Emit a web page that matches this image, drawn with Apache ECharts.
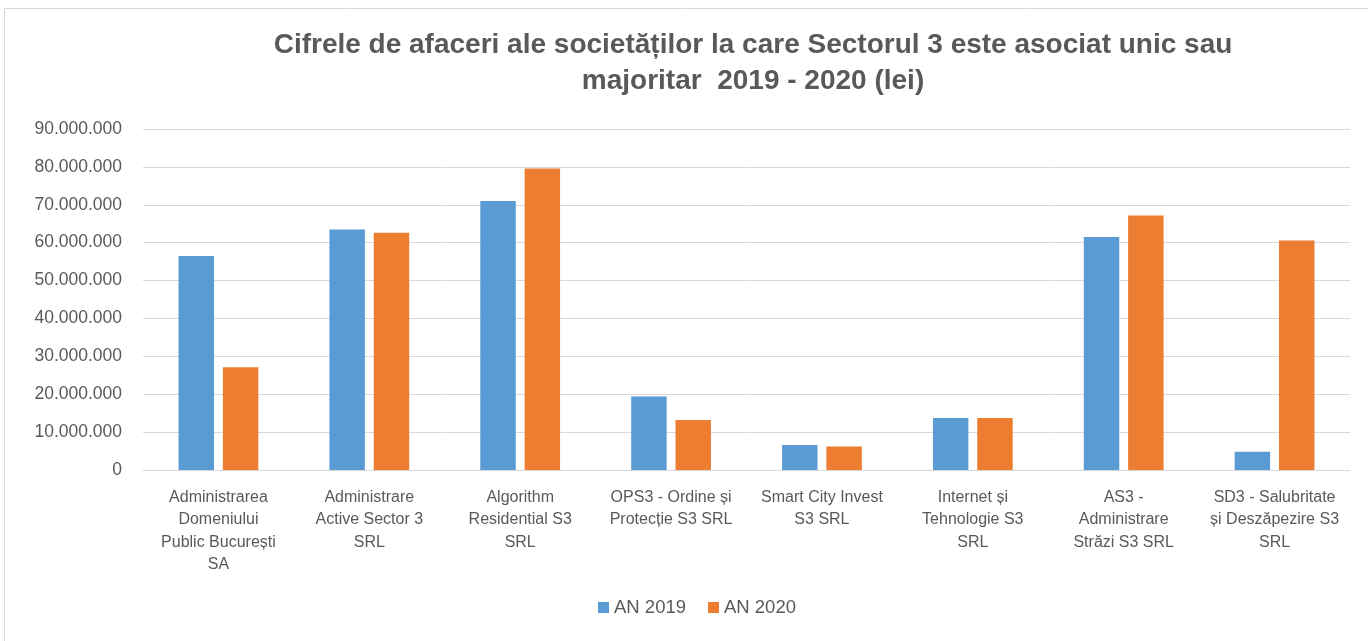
<!DOCTYPE html>
<html lang="ro">
<head>
  <meta charset="UTF-8">
  <title>Cifre de afaceri Sector 3</title>
  <style>
    html, body { margin: 0; padding: 0; background: #fff; }
    #chart { width: 1368px; height: 641px; }
  </style>
</head>
<body>
  <div id="chart"></div>
  <script src="https://cdn.jsdelivr.net/npm/echarts@6/dist/echarts.min.js"></script>
  <script>
// date
const categories = [
  'Administrarea\nDomeniului\nPublic București\nSA',
  'Administrare\nActive Sector 3\nSRL',
  'Algorithm\nResidential S3\nSRL',
  'OPS3 - Ordine și\nProtecție S3 SRL',
  'Smart City Invest\nS3 SRL',
  'Internet și\nTehnologie S3\nSRL',
  'AS3 -\nAdministrare\nStrăzi S3 SRL',
  'SD3 - Salubritate\nși Deszăpezire S3\nSRL'
];
const an2019 = [56500000, 63500000, 71000000, 19400000, 6600000, 13700000, 61500000, 4800000];
const an2020 = [27100000, 62600000, 79600000, 13200000, 6200000, 13700000, 67200000, 60600000];
const yTicks = [0, 10000000, 20000000, 30000000, 40000000, 50000000, 60000000, 70000000, 80000000, 90000000];

const txt = '#595959';
const font = '"Liberation Sans", Arial, sans-serif';

// 90000000 -> 90.000.000
function fmt(v) {
  if (v === 0) return '0';
  return String(v).replace(/\B(?=(\d{3})+(?!\d))/g, '.');
}

let chart = echarts.init(document.getElementById('chart'));
chart.setOption({
  animation: false,
  title: {
    text: 'Cifrele de afaceri ale societăților la care Sectorul 3 este asociat unic sau\nmajoritar  2019 - 2020 (lei)',
    left: 748,
    top: 22,
    textAlign: 'center',
    textStyle: { color: txt, fontFamily: font, fontWeight: 'bold', fontSize: 28, lineHeight: 36 }
  },
  graphic: [{
    type: 'rect',
    shape: { x: 4.5, y: 8.5, width: 1400, height: 700 },
    style: { fill: 'none', stroke: '#d9d9d9', lineWidth: 1 },
    silent: true
  }],
  legend: {
    bottom: 19,
    left: 593,
    itemWidth: 11,
    itemHeight: 11,
    itemGap: 22,
    icon: 'rect',
    textStyle: { color: txt, fontFamily: font, fontSize: 18.5 },
    data: ['AN 2019', 'AN 2020']
  },
  grid: { left: 143, right: 18, top: 129, bottom: 171 },
  xAxis: {
    type: 'category',
    data: categories,
    axisTick: { show: false },
    axisLine: { lineStyle: { color: '#d9d9d9' } },
    axisLabel: {
      color: txt, fontFamily: font, fontSize: 16, lineHeight: 22.5,
      interval: 0, margin: 16
    }
  },
  yAxis: {
    type: 'value',
    min: yTicks[0],
    max: yTicks[yTicks.length - 1],
    interval: yTicks[1] - yTicks[0],
    axisLine: { show: false },
    axisTick: { show: false },
    splitLine: { lineStyle: { color: '#d9d9d9' } },
    axisLabel: { color: txt, fontFamily: font, fontSize: 17.5, margin: 21, formatter: fmt }
  },
  series: [
    {
      name: 'AN 2019', type: 'bar', data: an2019,
      barWidth: '23.5%', barGap: '25%',
      itemStyle: { color: '#5b9bd5' }
    },
    {
      name: 'AN 2020', type: 'bar', data: an2020,
      barWidth: '23.5%',
      itemStyle: { color: '#ed7d31' }
    }
  ]
});
  </script>
</body>
</html>
